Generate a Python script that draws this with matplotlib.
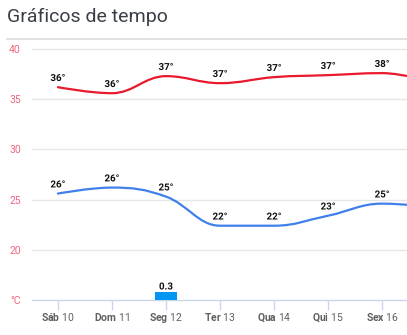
import numpy as np
import matplotlib
matplotlib.use("Agg")
import matplotlib.pyplot as plt
from matplotlib.path import Path
from matplotlib.patches import PathPatch
import matplotlib.patheffects as pe

plt.rcParams['font.family'] = ['Roboto', 'DejaVu Sans']
plt.rcParams['mathtext.fontset'] = 'custom'
plt.rcParams['mathtext.rm'] = 'Roboto'
plt.rcParams['mathtext.bf'] = 'Roboto:bold'

#-------------------------------------------------------------------------------
# data
#-------------------------------------------------------------------------------
dias = ['Sáb', 'Dom', 'Seg', 'Ter', 'Qua', 'Qui', 'Sex', 'Sáb']
numeros = [10, 11, 12, 13, 14, 15, 16, 17]
t_max = [36.2, 35.6, 37.3, 36.6, 37.2, 37.4, 37.6, 36.6]
t_min = [25.6, 26.2, 25.3, 22.4, 22.4, 23.4, 24.6, 24.2]
chuva = [0, 0, 0.3, 0, 0, 0, 0, 0]

RED = '#e8192c'
BLUE = '#3f80ea'
PINK = '#f0657f'


def spline_path(xs, ys, smoothing=1.5):
    # spline like the web charts do it (bezier with neighbour control points)
    denom = smoothing + 1
    n = len(xs)
    conts = []
    for i in range(n):
        px, py = xs[i], ys[i]
        if 0 < i < n - 1:
            lx, ly = xs[i-1], ys[i-1]
            nx, ny = xs[i+1], ys[i+1]
            lcx = (smoothing*px + lx)/denom
            lcy = (smoothing*py + ly)/denom
            rcx = (smoothing*px + nx)/denom
            rcy = (smoothing*py + ny)/denom
            if rcx != lcx:
                corr = ((rcy - lcy)*(rcx - px))/(rcx - lcx) + py - rcy
                lcy += corr
                rcy += corr
            if lcy > ly and lcy > py:
                lcy = max(ly, py); rcy = 2*py - lcy
            elif lcy < ly and lcy < py:
                lcy = min(ly, py); rcy = 2*py - lcy
            if rcy > ny and rcy > py:
                rcy = max(ny, py); lcy = 2*py - rcy
            elif rcy < ny and rcy < py:
                rcy = min(ny, py); lcy = 2*py - rcy
            conts.append((lcx, lcy, rcx, rcy))
        else:
            conts.append((px, py, px, py))
    verts = [(xs[0], ys[0])]
    codes = [Path.MOVETO]
    for i in range(1, n):
        verts += [(conts[i-1][2], conts[i-1][3]), (conts[i][0], conts[i][1]), (xs[i], ys[i])]
        codes += [Path.CURVE4]*3
    return Path(verts, codes)


x = np.arange(len(dias))
XLIM = (-0.48, 6.46)

fig = plt.figure(figsize=(4.07, 3.35), dpi=100)
fig.patch.set_facecolor('white')

# title + separator
fig.text(7/407, 1 - 17/335, 'Gráficos de tempo', fontsize=14, color='#3a3f47', va='center', ha='left')
fig.add_artist(plt.Line2D([7/407, 1], [1 - 39/335, 1 - 39/335], color='#dcdcdc', lw=1.2))

ax = fig.add_axes([32/407, 35/335, 1 - 32/407, 261/335])
ax.set_ylim(15, 41)

for s in ['top', 'right', 'left']:
    ax.spines[s].set_visible(False)
ax.spines['bottom'].set_color('#ccd6eb')
ax.spines['bottom'].set_linewidth(1)

ax.set_yticks([15, 20, 25, 30, 35, 40])
ax.set_yticklabels(['°C', '20', '25', '30', '35', '40'])
ax.tick_params(axis='y', length=0, pad=8, labelsize=7.5, labelcolor=PINK)
for yv in [20, 25, 30, 35, 40]:
    ax.axhline(yv, color='#e6e6e6', lw=1, zorder=0)

# rain bars on second axis
ax2 = ax.twinx()
ax2.set_ylim(0, 10)
ax2.axis('off')
ax2.bar(x, chuva, width=0.41, color='#0096f2', zorder=2)
for xi, c in zip(x, chuva):
    if c > 0:
        ax2.annotate('%.1f' % c, (xi, c), xytext=(0, 0.5), textcoords='offset points',
                     ha='center', va='bottom', fontsize=7, fontweight='bold', color='#111111',
                     path_effects=[pe.withStroke(linewidth=2, foreground='white')])

# temperature lines
for serie, cor in [(t_max, RED), (t_min, BLUE)]:
    patch = PathPatch(spline_path(x, serie), facecolor='none', edgecolor=cor, lw=1.6,
                      capstyle='round', joinstyle='round', zorder=3, clip_on=True)
    ax2.add_patch(patch)
    patch.set_transform(ax.transData)
    for xi, v in zip(x, serie):
        if XLIM[0] <= xi <= XLIM[1]:
            ax.annotate('%d°' % round(v), (xi, v), xytext=(0, 3), textcoords='offset points',
                        ha='center', va='bottom', fontsize=7, fontweight='bold', color='#111111',
                        path_effects=[pe.withStroke(linewidth=2, foreground='white')], zorder=4)

ax.set_xticks(x)
ax.set_xticklabels([r'$\mathbf{%s}$ %d' % (d, n) for d, n in zip(dias, numeros)])
ax.tick_params(axis='x', length=7, width=1, color='#ccd6eb', pad=1, labelsize=7.5, labelcolor='#606060')
ax.set_xlim(XLIM)
ax2.set_xlim(XLIM)

fig.savefig('out.png', dpi=100, facecolor='white')
